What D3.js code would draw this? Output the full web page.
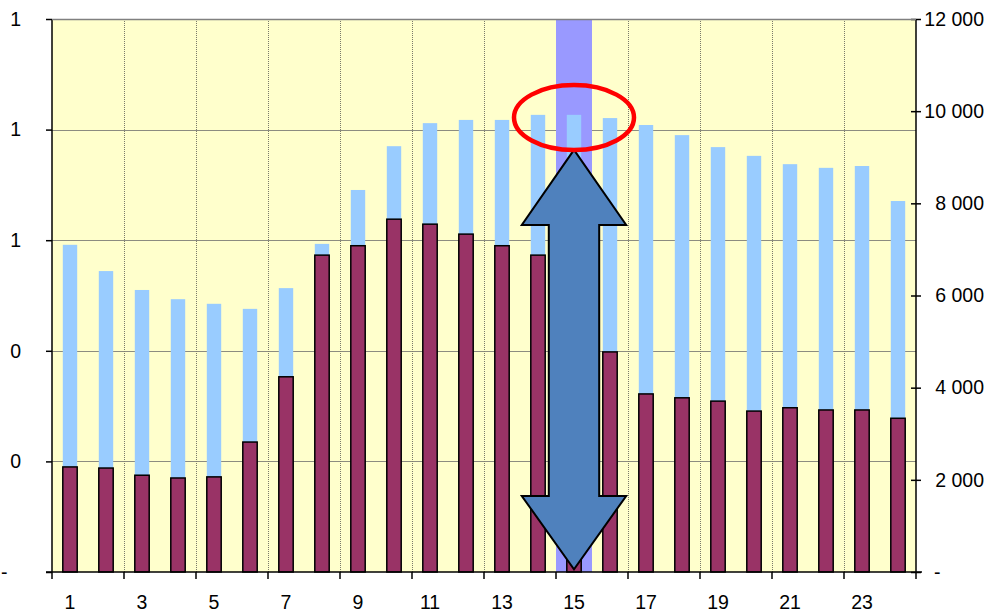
<!DOCTYPE html>
<html>
<head>
<meta charset="utf-8">
<script src="https://cdn.jsdelivr.net/npm/d3@7"></script>
<style>
  html, body { margin: 0; padding: 0; background: #ffffff; }
  svg { display: block; }
  text { font-family: "Liberation Sans", Arial, sans-serif; font-size: 19.5px; fill: #000; }
</style>
</head>
<body>
<svg id="chart" width="985" height="614"></svg>
<script>
// ---------- data ----------
const categories = ["1","2","3","4","5","6","7","8","9","10","11","12","13","14","15","16","17","18","19","20","21","22","23","24"];
// light-blue columns (right axis)
const blueValues = [7100, 6530, 6120, 5920, 5820, 5710, 6160, 7120, 8290, 9240, 9740, 9810, 9810, 9920, 9920, 9850, 9700, 9480, 9220, 9030, 8850, 8770, 8810, 8050];
// purple columns (left axis)
const purpleValues = [0.190, 0.188, 0.175, 0.170, 0.172, 0.235, 0.353, 0.573, 0.590, 0.638, 0.629, 0.611, 0.590, 0.573, 0.520, 0.398, 0.322, 0.315, 0.309, 0.291, 0.297, 0.293, 0.293, 0.278];
const highlightCategory = "15";
const leftTicks = [0, 0.2, 0.4, 0.6, 0.8, 1.0];
const leftTickLabels = ["-", "0", "0", "1", "1", "1"];
const rightTicks = [0, 2000, 4000, 6000, 8000, 10000, 12000];
const rightTickLabels = ["-", "2 000", "4 000", "6 000", "8 000", "10 000", "12 000"];
const xLabelCategories = ["1","3","5","7","9","11","13","15","17","19","21","23"];

// ---------- layout ----------
const L = 52, R = 916, T = 19, B = 572;
const svg = d3.select("#chart");

const x = d3.scaleBand().domain(categories).range([L, R]).paddingInner(0).paddingOuter(0);
const yL = d3.scaleLinear().domain([0, 1]).range([B, T]);
const yR = d3.scaleLinear().domain([0, 12000]).range([B, T]);
const bw = x.bandwidth();

// plot background
svg.append("rect").attr("x", L).attr("y", T).attr("width", R - L).attr("height", B - T).attr("fill", "#FFFFCC");

// horizontal gridlines
svg.append("g").selectAll("line").data(leftTicks.filter(d => d > 0)).join("line")
  .attr("x1", L).attr("x2", R)
  .attr("y1", d => Math.round(yL(d)) + 0.5).attr("y2", d => Math.round(yL(d)) + 0.5)
  .attr("stroke", "#8c8c80").attr("stroke-width", 1);

// vertical dotted gridlines at every second category boundary
const boundaryCats = categories.filter((c, i) => i % 2 === 0 && i > 0);
svg.append("g").selectAll("line").data(boundaryCats).join("line")
  .attr("x1", d => Math.round(x(d)) + 0.5).attr("x2", d => Math.round(x(d)) + 0.5)
  .attr("y1", T).attr("y2", B)
  .attr("stroke", "#7a7a6a").attr("stroke-width", 1).attr("stroke-dasharray", "1,1");

// highlight band
svg.append("rect").attr("x", x(highlightCategory)).attr("y", T)
  .attr("width", bw).attr("height", B - T).attr("fill", "#9999FF");

// blue columns
svg.append("g").selectAll("rect").data(categories).join("rect")
  .attr("x", d => x(d) + bw * 0.3).attr("width", bw * 0.4)
  .attr("y", (d, i) => yR(blueValues[i])).attr("height", (d, i) => B - yR(blueValues[i]))
  .attr("fill", "#99CCFF");

// purple columns
svg.append("g").selectAll("rect").data(categories).join("rect")
  .attr("x", d => x(d) + bw * 0.3).attr("width", bw * 0.4)
  .attr("y", (d, i) => yL(purpleValues[i])).attr("height", (d, i) => B - yL(purpleValues[i]))
  .attr("fill", "#993366").attr("stroke", "#000").attr("stroke-width", 1.5);

// ---------- axes ----------
// left
const leftAxis = svg.append("g").attr("transform", `translate(${L},0)`)
  .call(d3.axisLeft(yL).tickValues(leftTicks).tickFormat((d, i) => leftTickLabels[i]).tickSize(6).tickPadding(25));
leftAxis.attr("font-family", null).attr("font-size", null);
leftAxis.select(".domain").attr("stroke", "#000").attr("stroke-width", 1.5).attr("d", `M0,${T}V${B}`);
leftAxis.selectAll(".tick line").attr("stroke", "#000").attr("stroke-width", 1.5);
leftAxis.selectAll(".tick text")
  .each(function(d, i) { if (leftTickLabels[i] === "-") d3.select(this).attr("text-anchor", "start").attr("x", -L + 1); });

// right
const rightAxis = svg.append("g").attr("transform", `translate(${R},0)`)
  .call(d3.axisRight(yR).tickValues(rightTicks).tickFormat((d, i) => rightTickLabels[i]).tickSize(5).tickPadding(2));
rightAxis.attr("font-family", null).attr("font-size", null);
rightAxis.select(".domain").attr("stroke", "#000").attr("stroke-width", 1.5).attr("d", `M0,${T}V${B}`);
rightAxis.selectAll(".tick line").attr("stroke", "#000").attr("stroke-width", 1.5).attr("x1", -5).attr("x2", 5);
rightAxis.selectAll(".tick text")
  .attr("text-anchor", "end").attr("x", 984 - R)
  .each(function(d, i) { if (rightTickLabels[i] === "-") d3.select(this).attr("text-anchor", "start").attr("x", 18); });

// top border
svg.append("line").attr("x1", L).attr("x2", R).attr("y1", T + 0.5).attr("y2", T + 0.5).attr("stroke", "#808080").attr("stroke-width", 1.5);

// bottom axis
const bottomAxis = svg.append("g").attr("transform", `translate(0,${B})`)
  .call(d3.axisBottom(x).tickValues(xLabelCategories).tickSize(0).tickPadding(23));
bottomAxis.attr("font-family", null).attr("font-size", null);
bottomAxis.select(".domain").attr("stroke", "#000").attr("stroke-width", 1.5).attr("d", `M${L - 6},0H${R + 6}`);
const tickCats = categories.filter((c, i) => i % 2 === 0);
bottomAxis.append("g").selectAll("line").data(tickCats.map(c => x(c)).concat([R])).join("line")
  .attr("x1", d => d).attr("x2", d => d).attr("y1", 0).attr("y2", 7)
  .attr("stroke", "#000").attr("stroke-width", 1.5);

// ---------- annotations ----------
const cx = x(highlightCategory) + bw / 2;
const shaftHalf = bw * 0.7, headHalf = bw * 1.45;
const yTipTop = yR(9160), yHeadTop = yR(7530), yHeadBot = yR(1650), yTipBot = yR(60);
const arrowPts = [
  [cx, yTipTop], [cx + headHalf, yHeadTop], [cx + shaftHalf, yHeadTop], [cx + shaftHalf, yHeadBot],
  [cx + headHalf, yHeadBot], [cx, yTipBot], [cx - headHalf, yHeadBot], [cx - shaftHalf, yHeadBot],
  [cx - shaftHalf, yHeadTop], [cx - headHalf, yHeadTop]
];
svg.append("path").attr("d", d3.line()(arrowPts) + "Z")
  .attr("fill", "#4F81BD").attr("stroke", "#000").attr("stroke-width", 2).attr("stroke-linejoin", "miter");

svg.append("ellipse").attr("cx", cx).attr("cy", yR(9860)).attr("rx", 60).attr("ry", 32.5)
  .attr("fill", "none").attr("stroke", "#FF0000").attr("stroke-width", 4.5);
</script>
</body>
</html>
